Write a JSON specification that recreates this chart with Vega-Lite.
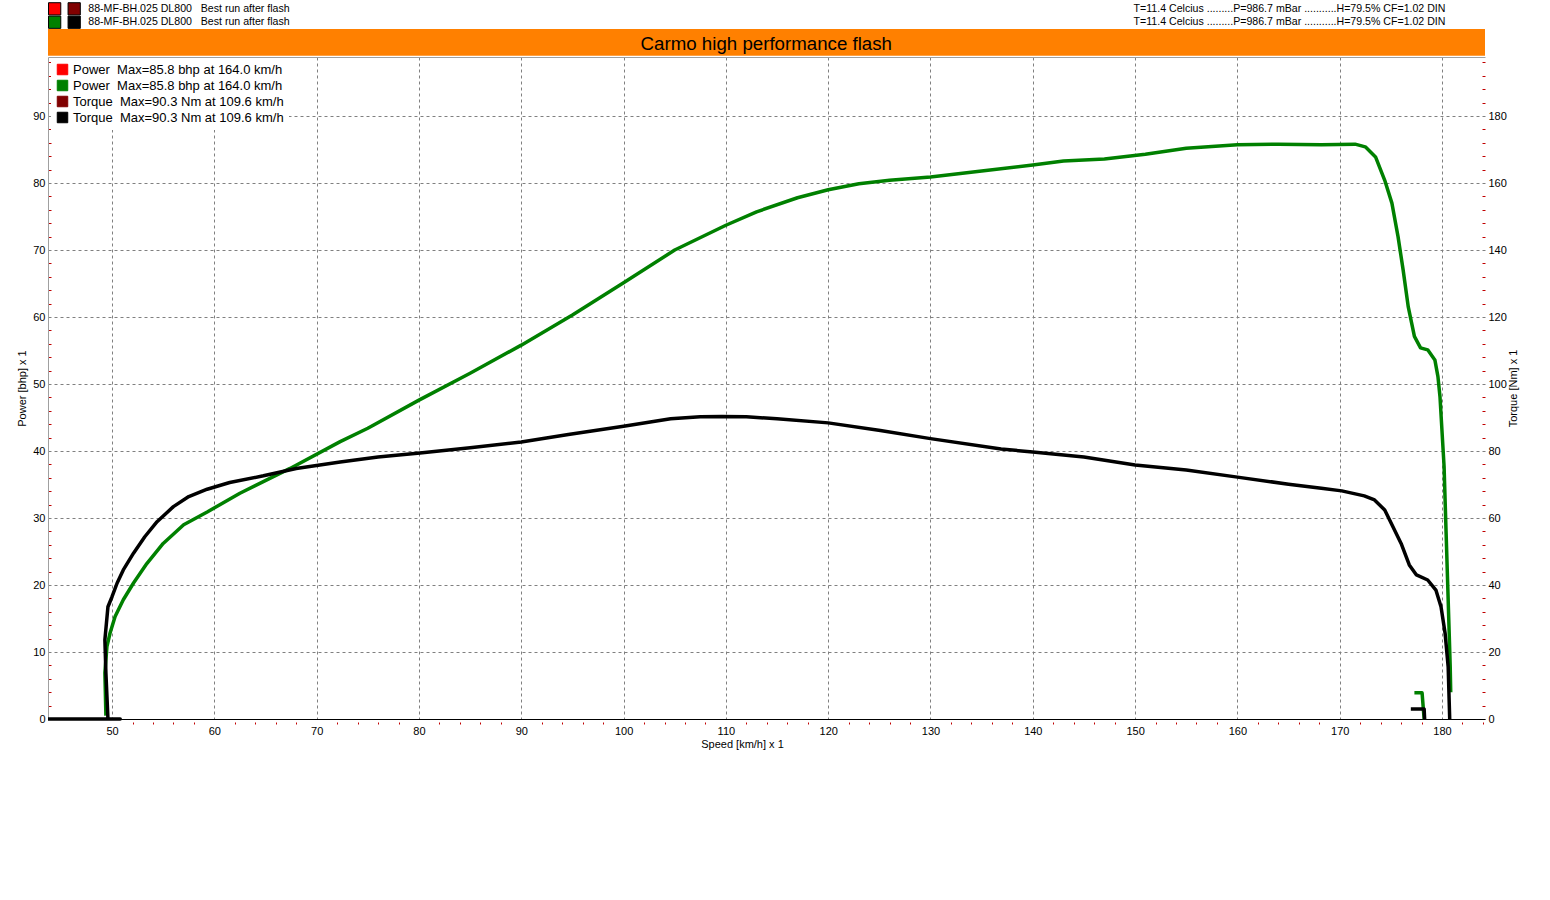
{
  "$schema": "https://vega.github.io/schema/vega-lite/v6.json",
  "autosize": {"type": "none"},
  "width": 1437,
  "height": 662,
  "padding": {"left": 48, "top": 57, "right": 65, "bottom": 181},
  "background": "white",
  "config": {
    "font": "Liberation Sans",
    "view": {"stroke": null},
    "axis": {
      "labelFont": "Liberation Sans",
      "labelFontSize": 11,
      "labelColor": "black",
      "titleFont": "Liberation Sans",
      "titleFontSize": 11,
      "titleFontWeight": "normal",
      "titleColor": "black"
    }
  },
  "datasets": {
    "power": [
      {"series": "p2", "seg": "main", "i": 0, "speed": 49.4, "bhp": 0.5},
      {"series": "p2", "seg": "main", "i": 1, "speed": 49.3, "bhp": 6.9},
      {"series": "p2", "seg": "main", "i": 2, "speed": 49.5, "bhp": 10.8},
      {"series": "p2", "seg": "main", "i": 3, "speed": 49.8, "bhp": 12.8},
      {"series": "p2", "seg": "main", "i": 4, "speed": 50.3, "bhp": 15.3},
      {"series": "p2", "seg": "main", "i": 5, "speed": 51.1, "bhp": 17.8},
      {"series": "p2", "seg": "main", "i": 6, "speed": 52.1, "bhp": 20.3},
      {"series": "p2", "seg": "main", "i": 7, "speed": 53.4, "bhp": 23.2},
      {"series": "p2", "seg": "main", "i": 8, "speed": 55.0, "bhp": 26.2},
      {"series": "p2", "seg": "main", "i": 9, "speed": 57.0, "bhp": 29.0},
      {"series": "p2", "seg": "main", "i": 10, "speed": 59.3, "bhp": 30.9},
      {"series": "p2", "seg": "main", "i": 11, "speed": 62.5, "bhp": 33.7},
      {"series": "p2", "seg": "main", "i": 12, "speed": 67.4, "bhp": 37.4},
      {"series": "p2", "seg": "main", "i": 13, "speed": 72.3, "bhp": 41.4},
      {"series": "p2", "seg": "main", "i": 14, "speed": 75.0, "bhp": 43.4},
      {"series": "p2", "seg": "main", "i": 15, "speed": 80.0, "bhp": 47.6},
      {"series": "p2", "seg": "main", "i": 16, "speed": 85.0, "bhp": 51.6},
      {"series": "p2", "seg": "main", "i": 17, "speed": 90.0, "bhp": 55.8},
      {"series": "p2", "seg": "main", "i": 18, "speed": 95.0, "bhp": 60.3},
      {"series": "p2", "seg": "main", "i": 19, "speed": 100.0, "bhp": 65.1},
      {"series": "p2", "seg": "main", "i": 20, "speed": 105.0, "bhp": 70.0},
      {"series": "p2", "seg": "main", "i": 21, "speed": 110.0, "bhp": 73.7},
      {"series": "p2", "seg": "main", "i": 22, "speed": 113.0, "bhp": 75.7},
      {"series": "p2", "seg": "main", "i": 23, "speed": 117.0, "bhp": 77.8},
      {"series": "p2", "seg": "main", "i": 24, "speed": 120.0, "bhp": 79.0},
      {"series": "p2", "seg": "main", "i": 25, "speed": 123.0, "bhp": 79.9},
      {"series": "p2", "seg": "main", "i": 26, "speed": 126.0, "bhp": 80.4},
      {"series": "p2", "seg": "main", "i": 27, "speed": 130.0, "bhp": 80.9},
      {"series": "p2", "seg": "main", "i": 28, "speed": 135.0, "bhp": 81.8},
      {"series": "p2", "seg": "main", "i": 29, "speed": 140.0, "bhp": 82.7},
      {"series": "p2", "seg": "main", "i": 30, "speed": 143.0, "bhp": 83.3},
      {"series": "p2", "seg": "main", "i": 31, "speed": 147.0, "bhp": 83.6},
      {"series": "p2", "seg": "main", "i": 32, "speed": 151.0, "bhp": 84.3},
      {"series": "p2", "seg": "main", "i": 33, "speed": 155.0, "bhp": 85.2},
      {"series": "p2", "seg": "main", "i": 34, "speed": 160.0, "bhp": 85.7},
      {"series": "p2", "seg": "main", "i": 35, "speed": 164.0, "bhp": 85.8},
      {"series": "p2", "seg": "main", "i": 36, "speed": 168.2, "bhp": 85.7},
      {"series": "p2", "seg": "main", "i": 37, "speed": 171.5, "bhp": 85.8},
      {"series": "p2", "seg": "main", "i": 38, "speed": 172.5, "bhp": 85.4},
      {"series": "p2", "seg": "main", "i": 39, "speed": 173.5, "bhp": 83.9},
      {"series": "p2", "seg": "main", "i": 40, "speed": 174.4, "bhp": 80.4},
      {"series": "p2", "seg": "main", "i": 41, "speed": 175.1, "bhp": 77.0},
      {"series": "p2", "seg": "main", "i": 42, "speed": 175.7, "bhp": 72.0},
      {"series": "p2", "seg": "main", "i": 43, "speed": 176.2, "bhp": 67.0},
      {"series": "p2", "seg": "main", "i": 44, "speed": 176.7, "bhp": 61.5},
      {"series": "p2", "seg": "main", "i": 45, "speed": 177.3, "bhp": 57.1},
      {"series": "p2", "seg": "main", "i": 46, "speed": 177.9, "bhp": 55.4},
      {"series": "p2", "seg": "main", "i": 47, "speed": 178.6, "bhp": 55.1},
      {"series": "p2", "seg": "main", "i": 48, "speed": 179.3, "bhp": 53.6},
      {"series": "p2", "seg": "main", "i": 49, "speed": 179.6, "bhp": 51.1},
      {"series": "p2", "seg": "main", "i": 50, "speed": 179.8, "bhp": 48.1},
      {"series": "p2", "seg": "main", "i": 51, "speed": 180.2, "bhp": 37.7},
      {"series": "p2", "seg": "main", "i": 52, "speed": 180.4, "bhp": 27.7},
      {"series": "p2", "seg": "main", "i": 53, "speed": 180.6, "bhp": 17.8},
      {"series": "p2", "seg": "main", "i": 54, "speed": 180.8, "bhp": 7.8},
      {"series": "p2", "seg": "main", "i": 55, "speed": 180.85, "bhp": 4.0},
      {"series": "p2", "seg": "hook", "i": 0, "speed": 177.3, "bhp": 3.9},
      {"series": "p2", "seg": "hook", "i": 1, "speed": 178.05, "bhp": 3.9},
      {"series": "p2", "seg": "hook", "i": 2, "speed": 178.25, "bhp": 0}
    ],
    "torque": [
      {"series": "t2", "seg": "main", "i": 0, "speed": 43.74, "nm": 0},
      {"series": "t2", "seg": "main", "i": 1, "speed": 50.8, "nm": 0},
      {"series": "t2", "seg": "main", "i": 2, "speed": 49.6, "nm": 0},
      {"series": "t2", "seg": "main", "i": 3, "speed": 49.4, "nm": 13.7},
      {"series": "t2", "seg": "main", "i": 4, "speed": 49.3, "nm": 23.6},
      {"series": "t2", "seg": "main", "i": 5, "speed": 49.6, "nm": 33.5},
      {"series": "t2", "seg": "main", "i": 6, "speed": 50.0, "nm": 36.5},
      {"series": "t2", "seg": "main", "i": 7, "speed": 50.5, "nm": 40.6},
      {"series": "t2", "seg": "main", "i": 8, "speed": 51.1, "nm": 44.5},
      {"series": "t2", "seg": "main", "i": 9, "speed": 52.1, "nm": 49.5},
      {"series": "t2", "seg": "main", "i": 10, "speed": 53.2, "nm": 54.4},
      {"series": "t2", "seg": "main", "i": 11, "speed": 54.4, "nm": 58.9},
      {"series": "t2", "seg": "main", "i": 12, "speed": 56.0, "nm": 63.4},
      {"series": "t2", "seg": "main", "i": 13, "speed": 57.5, "nm": 66.4},
      {"series": "t2", "seg": "main", "i": 14, "speed": 59.3, "nm": 68.6},
      {"series": "t2", "seg": "main", "i": 15, "speed": 61.5, "nm": 70.6},
      {"series": "t2", "seg": "main", "i": 16, "speed": 64.8, "nm": 72.6},
      {"series": "t2", "seg": "main", "i": 17, "speed": 68.0, "nm": 74.8},
      {"series": "t2", "seg": "main", "i": 18, "speed": 72.3, "nm": 76.7},
      {"series": "t2", "seg": "main", "i": 19, "speed": 76.0, "nm": 78.2},
      {"series": "t2", "seg": "main", "i": 20, "speed": 80.1, "nm": 79.4},
      {"series": "t2", "seg": "main", "i": 21, "speed": 85.0, "nm": 81.0},
      {"series": "t2", "seg": "main", "i": 22, "speed": 90.0, "nm": 82.7},
      {"series": "t2", "seg": "main", "i": 23, "speed": 94.6, "nm": 84.9},
      {"series": "t2", "seg": "main", "i": 24, "speed": 100.0, "nm": 87.4},
      {"series": "t2", "seg": "main", "i": 25, "speed": 104.6, "nm": 89.6},
      {"series": "t2", "seg": "main", "i": 26, "speed": 107.5, "nm": 90.2},
      {"series": "t2", "seg": "main", "i": 27, "speed": 109.6, "nm": 90.3},
      {"series": "t2", "seg": "main", "i": 28, "speed": 112.0, "nm": 90.2},
      {"series": "t2", "seg": "main", "i": 29, "speed": 115.0, "nm": 89.6},
      {"series": "t2", "seg": "main", "i": 30, "speed": 120.0, "nm": 88.4},
      {"series": "t2", "seg": "main", "i": 31, "speed": 125.1, "nm": 86.1},
      {"series": "t2", "seg": "main", "i": 32, "speed": 130.0, "nm": 83.7},
      {"series": "t2", "seg": "main", "i": 33, "speed": 136.9, "nm": 80.6},
      {"series": "t2", "seg": "main", "i": 34, "speed": 140.0, "nm": 79.7},
      {"series": "t2", "seg": "main", "i": 35, "speed": 145.0, "nm": 78.2},
      {"series": "t2", "seg": "main", "i": 36, "speed": 150.0, "nm": 75.8},
      {"series": "t2", "seg": "main", "i": 37, "speed": 155.0, "nm": 74.3},
      {"series": "t2", "seg": "main", "i": 38, "speed": 160.0, "nm": 72.2},
      {"series": "t2", "seg": "main", "i": 39, "speed": 165.0, "nm": 70.1},
      {"series": "t2", "seg": "main", "i": 40, "speed": 168.2, "nm": 68.9},
      {"series": "t2", "seg": "main", "i": 41, "speed": 170.2, "nm": 68.1},
      {"series": "t2", "seg": "main", "i": 42, "speed": 172.4, "nm": 66.6},
      {"series": "t2", "seg": "main", "i": 43, "speed": 173.4, "nm": 65.4},
      {"series": "t2", "seg": "main", "i": 44, "speed": 174.4, "nm": 62.4},
      {"series": "t2", "seg": "main", "i": 45, "speed": 175.2, "nm": 57.4},
      {"series": "t2", "seg": "main", "i": 46, "speed": 176.0, "nm": 52.4},
      {"series": "t2", "seg": "main", "i": 47, "speed": 176.8, "nm": 46.0},
      {"series": "t2", "seg": "main", "i": 48, "speed": 177.5, "nm": 43.0},
      {"series": "t2", "seg": "main", "i": 49, "speed": 178.6, "nm": 41.5},
      {"series": "t2", "seg": "main", "i": 50, "speed": 179.4, "nm": 38.5},
      {"series": "t2", "seg": "main", "i": 51, "speed": 179.9, "nm": 33.5},
      {"series": "t2", "seg": "main", "i": 52, "speed": 180.3, "nm": 25.6},
      {"series": "t2", "seg": "main", "i": 53, "speed": 180.6, "nm": 15.6},
      {"series": "t2", "seg": "main", "i": 54, "speed": 180.75, "nm": 0},
      {"series": "t2", "seg": "hook", "i": 0, "speed": 176.95, "nm": 3.0},
      {"series": "t2", "seg": "hook", "i": 1, "speed": 178.25, "nm": 3.0},
      {"series": "t2", "seg": "hook", "i": 2, "speed": 178.3, "nm": 0}
    ],
    "header": [
      {"run": "88-MF-BH.025 DL800\u00a0\u00a0\u00a0Best run after flash", "cond": "T=11.4 Celcius .........P=986.7 mBar ...........H=79.5% CF=1.02 DIN"}
    ],
    "banner": [
      {"label": "Carmo high performance flash"}
    ]
  },
  "layer": [
    {
      "layer": [
        {
          "data": {"name": "banner"},
          "mark": {"type": "rect", "fill": "#FF8000"},
          "encoding": {
            "x": {"datum": 43.74, "type": "quantitative", "scale": {"domain": [43.74, 184.2], "nice": false, "zero": false}, "axis": null},
            "x2": {"datum": 184.2},
            "y": {"datum": 99.0, "type": "quantitative", "scale": {"domain": [0, 98.81], "nice": false, "zero": false}, "axis": null},
            "y2": {"datum": 103.0}
          }
        },
        {
          "data": {"name": "banner"},
          "mark": {"type": "text", "align": "center", "baseline": "middle", "fontSize": 18.7, "font": "Liberation Sans", "color": "black"},
          "encoding": {
            "x": {"datum": 113.95, "type": "quantitative", "scale": {"domain": [43.74, 184.2], "nice": false, "zero": false}, "axis": null},
            "y": {"datum": 100.75, "type": "quantitative", "scale": {"domain": [0, 98.81], "nice": false, "zero": false}, "axis": null},
            "text": {"field": "label"}
          }
        },
        {
          "data": {"name": "banner"},
          "mark": {"type": "point", "shape": "square", "filled": true, "fill": "#FF0000", "stroke": "#000000", "strokeWidth": 1, "size": 150, "opacity": 1},
          "encoding": {
            "x": {"datum": 44.39, "type": "quantitative", "scale": {"domain": [43.74, 184.2], "nice": false, "zero": false}, "axis": null},
            "y": {"datum": 106.0, "type": "quantitative", "scale": {"domain": [0, 98.81], "nice": false, "zero": false}, "axis": null}
          }
        },
        {
          "data": {"name": "banner"},
          "mark": {"type": "point", "shape": "square", "filled": true, "fill": "#800000", "stroke": "#000000", "strokeWidth": 1, "size": 150, "opacity": 1},
          "encoding": {
            "x": {"datum": 46.3, "type": "quantitative", "scale": {"domain": [43.74, 184.2], "nice": false, "zero": false}, "axis": null},
            "y": {"datum": 106.0, "type": "quantitative", "scale": {"domain": [0, 98.81], "nice": false, "zero": false}, "axis": null}
          }
        },
        {
          "data": {"name": "banner"},
          "mark": {"type": "point", "shape": "square", "filled": true, "fill": "#008000", "stroke": "#000000", "strokeWidth": 1, "size": 150, "opacity": 1},
          "encoding": {
            "x": {"datum": 44.39, "type": "quantitative", "scale": {"domain": [43.74, 184.2], "nice": false, "zero": false}, "axis": null},
            "y": {"datum": 104.0, "type": "quantitative", "scale": {"domain": [0, 98.81], "nice": false, "zero": false}, "axis": null}
          }
        },
        {
          "data": {"name": "banner"},
          "mark": {"type": "point", "shape": "square", "filled": true, "fill": "#000000", "stroke": "#000000", "strokeWidth": 1, "size": 150, "opacity": 1},
          "encoding": {
            "x": {"datum": 46.3, "type": "quantitative", "scale": {"domain": [43.74, 184.2], "nice": false, "zero": false}, "axis": null},
            "y": {"datum": 104.0, "type": "quantitative", "scale": {"domain": [0, 98.81], "nice": false, "zero": false}, "axis": null}
          }
        },
        {
          "data": {"name": "header"},
          "mark": {"type": "text", "align": "left", "baseline": "middle", "fontSize": 10.6, "font": "Liberation Sans", "color": "black"},
          "encoding": {
            "x": {"datum": 47.68, "type": "quantitative", "scale": {"domain": [43.74, 184.2], "nice": false, "zero": false}, "axis": null},
            "y": {"datum": 106.0, "type": "quantitative", "scale": {"domain": [0, 98.81], "nice": false, "zero": false}, "axis": null},
            "text": {"field": "run"}
          }
        },
        {
          "data": {"name": "header"},
          "mark": {"type": "text", "align": "left", "baseline": "middle", "fontSize": 10.6, "font": "Liberation Sans", "color": "black"},
          "encoding": {
            "x": {"datum": 47.68, "type": "quantitative", "scale": {"domain": [43.74, 184.2], "nice": false, "zero": false}, "axis": null},
            "y": {"datum": 104.0, "type": "quantitative", "scale": {"domain": [0, 98.81], "nice": false, "zero": false}, "axis": null},
            "text": {"field": "run"}
          }
        },
        {
          "data": {"name": "header"},
          "mark": {"type": "text", "align": "left", "baseline": "middle", "fontSize": 10.6, "font": "Liberation Sans", "color": "black"},
          "encoding": {
            "x": {"datum": 149.85, "type": "quantitative", "scale": {"domain": [43.74, 184.2], "nice": false, "zero": false}, "axis": null},
            "y": {"datum": 106.0, "type": "quantitative", "scale": {"domain": [0, 98.81], "nice": false, "zero": false}, "axis": null},
            "text": {"field": "cond"}
          }
        },
        {
          "data": {"name": "header"},
          "mark": {"type": "text", "align": "left", "baseline": "middle", "fontSize": 10.6, "font": "Liberation Sans", "color": "black"},
          "encoding": {
            "x": {"datum": 149.85, "type": "quantitative", "scale": {"domain": [43.74, 184.2], "nice": false, "zero": false}, "axis": null},
            "y": {"datum": 104.0, "type": "quantitative", "scale": {"domain": [0, 98.81], "nice": false, "zero": false}, "axis": null},
            "text": {"field": "cond"}
          }
        },
        {
          "data": {"name": "power"},
          "mark": {"type": "point", "opacity": 0},
          "encoding": {
            "x": {"field": "speed", "type": "quantitative", "scale": {"domain": [43.74, 184.2], "nice": false, "zero": false},
              "axis": {"orient": "top", "labels": false, "ticks": false, "grid": false, "domain": true, "domainColor": "#a0a0a0", "title": null}},
            "y": {"field": "bhp", "type": "quantitative", "scale": {"domain": [0, 98.81], "nice": false, "zero": false},
              "axis": {"orient": "left", "values": [2,4,6,8,12,14,16,18,22,24,26,28,32,34,36,38,42,44,46,48,52,54,56,58,62,64,66,68,72,74,76,78,82,84,86,88,92,94,96,98], "labels": false, "domain": false, "grid": false, "ticks": true, "tickColor": "#c00000", "tickSize": 3, "offset": -3, "title": null}}
          }
        },
        {
          "data": {"name": "power"},
          "mark": {"type": "point", "opacity": 0},
          "encoding": {
            "x": {"field": "speed", "type": "quantitative", "scale": {"domain": [43.74, 184.2], "nice": false, "zero": false},
              "axis": {"orient": "bottom", "values": [52,54,56,58,62,64,66,68,72,74,76,78,82,84,86,88,92,94,96,98,102,104,106,108,112,114,116,118,122,124,126,128,132,134,136,138,142,144,146,148,152,154,156,158,162,164,166,168,172,174,176,178,182,184], "labels": false, "domain": false, "grid": false, "ticks": true, "tickColor": "#c00000", "tickSize": 2, "offset": 3, "title": null}},
            "y": {"field": "bhp", "type": "quantitative", "scale": {"domain": [0, 98.81], "nice": false, "zero": false}, "axis": null}
          }
        },
        {
          "data": {"name": "power"},
          "mark": {"type": "line", "strokeWidth": 3.5, "strokeJoin": "round"},
          "encoding": {
            "x": {"field": "speed", "type": "quantitative", "scale": {"domain": [43.74, 184.2], "nice": false, "zero": false},
              "axis": {"orient": "bottom", "values": [50,60,70,80,90,100,110,120,130,140,150,160,170,180], "title": "Speed [km/h] x 1", "titleX": 694, "titleAlign": "center", "titlePadding": 2, "grid": true, "gridColor": "#808080", "gridDash": [3, 3], "gridWidth": 1, "ticks": false, "domain": true, "domainColor": "#000000", "labelPadding": 6}},
            "y": {"field": "bhp", "type": "quantitative", "scale": {"domain": [0, 98.81], "nice": false, "zero": false},
              "axis": {"orient": "left", "values": [0,10,20,30,40,50,60,70,80,90], "title": "Power [bhp] x 1", "titlePadding": 5, "grid": true, "gridColor": "#808080", "gridDash": [3, 3], "gridWidth": 1, "ticks": false, "domain": true, "domainColor": "#a0a0a0", "labelPadding": 3}},
            "color": {"field": "series", "type": "nominal",
              "scale": {"domain": ["p1", "p2", "t1", "t2"], "range": ["#FF0000", "#008000", "#800000", "#000000"]},
              "legend": {
                "orient": "none", "legendX": 3, "legendY": 1, "title": null,
                "symbolType": "square", "symbolSize": 110, "labelFontSize": 13, "labelFont": "Liberation Sans", "labelColor": "black", "labelLimit": 0,
                "fillColor": "white", "padding": 5, "rowPadding": 1, "labelOffset": 4,
                "labelExpr": "datum.value == 'p1' || datum.value == 'p2' ? 'Power\u00a0 Max=85.8 bhp at 164.0 km/h' : 'Torque\u00a0 Max=90.3 Nm at 109.6 km/h'",
                "encode": {"symbols": {"update": {"fill": {"scale": "color", "field": "value"}, "fillOpacity": {"value": 1}, "stroke": {"value": "#000000"}, "strokeWidth": {"value": 1}, "opacity": {"value": 1}}}}
              }},
            "detail": {"field": "seg"},
            "order": {"field": "i", "type": "quantitative"}
          }
        }
      ],
      "resolve": {"axis": {"x": "independent", "y": "independent"}}
    },
    {
      "layer": [
        {
          "data": {"name": "torque"},
          "mark": {"type": "point", "opacity": 0},
          "encoding": {
            "x": {"field": "speed", "type": "quantitative", "scale": {"domain": [43.74, 184.2], "nice": false, "zero": false}, "axis": null},
            "y": {"field": "nm", "type": "quantitative", "scale": {"domain": [0, 197.62], "nice": false, "zero": false},
              "axis": {"orient": "right", "values": [4,8,12,16,24,28,32,36,44,48,52,56,64,68,72,76,84,88,92,96,104,108,112,116,124,128,132,136,144,148,152,156,164,168,172,176,184,188,192,196], "labels": false, "domain": false, "grid": false, "ticks": true, "tickColor": "#c00000", "tickSize": 3, "offset": -3, "title": null}}
          }
        },
        {
          "data": {"name": "torque"},
          "mark": {"type": "line", "strokeWidth": 3.5, "strokeJoin": "round"},
          "encoding": {
            "x": {"field": "speed", "type": "quantitative", "scale": {"domain": [43.74, 184.2], "nice": false, "zero": false}, "axis": null},
            "y": {"field": "nm", "type": "quantitative", "scale": {"domain": [0, 197.62], "nice": false, "zero": false},
              "axis": {"orient": "right", "values": [0,20,40,60,80,100,120,140,160,180], "title": "Torque [Nm] x 1", "titleAngle": -90, "titlePadding": 12, "grid": false, "ticks": false, "domain": false, "labelPadding": 3}},
            "color": {"field": "series", "type": "nominal",
              "scale": {"domain": ["p1", "p2", "t1", "t2"], "range": ["#FF0000", "#008000", "#800000", "#000000"]}},
            "detail": {"field": "seg"},
            "order": {"field": "i", "type": "quantitative"}
          }
        }
      ],
      "resolve": {"axis": {"y": "independent"}}
    }
  ],
  "resolve": {"scale": {"y": "independent"}, "axis": {"x": "independent", "y": "independent"}}
}
